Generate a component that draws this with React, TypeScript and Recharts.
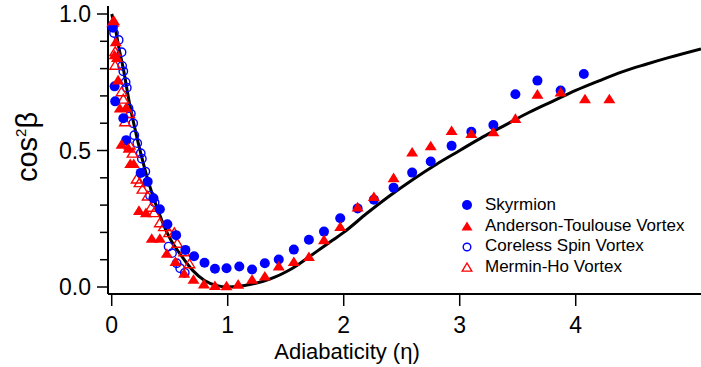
import { ComposedChart, Line, Scatter, XAxis, YAxis, Label } from 'recharts'

// theory curve
const curveEta = [0, 0.03, 0.06, 0.1, 0.15, 0.2, 0.25, 0.3, 0.35, 0.4, 0.45, 0.5, 0.6, 0.7, 0.8, 0.9, 1.0, 1.1, 1.2, 1.3, 1.4, 1.5, 1.6, 1.7, 1.8, 1.9, 2.0, 2.2, 2.4, 2.6, 2.8, 3.0, 3.2, 3.4, 3.6, 3.8, 4.0, 4.2, 4.4, 4.6, 4.8, 5.08]
const curveVal = [1.0, 0.95, 0.88, 0.8, 0.68, 0.58, 0.49, 0.41, 0.34, 0.28, 0.225, 0.18, 0.115, 0.06, 0.024, 0.006, 0.0, 0.003, 0.01, 0.02, 0.035, 0.055, 0.08, 0.11, 0.14, 0.17, 0.2, 0.27, 0.335, 0.395, 0.45, 0.5, 0.55, 0.595, 0.64, 0.68, 0.72, 0.755, 0.788, 0.815, 0.84, 0.872]

const skyEta = [0.01, 0.025, 0.03, 0.1, 0.125, 0.25, 0.31, 0.36, 0.415, 0.48, 0.555, 0.635, 0.71, 0.8, 0.89, 0.99, 1.1, 1.21, 1.32, 1.44, 1.57, 1.7, 1.83, 1.97, 2.12, 2.26, 2.43, 2.59, 2.75, 2.93, 3.1, 3.29, 3.48, 3.67, 3.87, 4.07]
const skyVal = [0.95, 0.735, 0.68, 0.618, 0.538, 0.418, 0.386, 0.325, 0.285, 0.23, 0.19, 0.136, 0.113, 0.089, 0.067, 0.069, 0.075, 0.064, 0.087, 0.101, 0.137, 0.173, 0.203, 0.252, 0.288, 0.32, 0.364, 0.419, 0.46, 0.517, 0.569, 0.593, 0.706, 0.756, 0.72, 0.78]

const atEta = [0.02, 0.035, 0.025, 0.045, 0.055, 0.07, 0.125, 0.085, 0.145, 0.16, 0.19, 0.235, 0.295, 0.345, 0.415, 0.475, 0.55, 0.625, 0.705, 0.795, 0.89, 0.99, 1.09, 1.21, 1.32, 1.44, 1.57, 1.7, 1.83, 1.97, 2.12, 2.26, 2.43, 2.59, 2.75, 2.93, 3.1, 3.29, 3.48, 3.67, 3.87, 4.08, 4.29]
const atVal = [0.975, 0.898, 0.85, 0.84, 0.758, 0.655, 0.658, 0.523, 0.508, 0.452, 0.452, 0.28, 0.272, 0.178, 0.178, 0.123, 0.093, 0.05, 0.028, 0.011, 0.005, 0.004, 0.01, 0.028, 0.04, 0.077, 0.093, 0.111, 0.173, 0.221, 0.293, 0.331, 0.4, 0.494, 0.517, 0.573, 0.562, 0.568, 0.617, 0.706, 0.714, 0.689, 0.689]

const csvEta = [0.01, 0.02, 0.06, 0.085, 0.09, 0.1, 0.12, 0.13, 0.145, 0.165, 0.185, 0.195, 0.22, 0.25, 0.26, 0.29, 0.33, 0.37, 0.49, 0.52, 0.56, 0.59, 0.63]
const csvVal = [0.96, 0.93, 0.905, 0.86, 0.81, 0.79, 0.75, 0.73, 0.655, 0.635, 0.6, 0.556, 0.527, 0.49, 0.47, 0.423, 0.335, 0.31, 0.148, 0.124, 0.087, 0.069, 0.052]

const mhEta = [0.01, 0.03, 0.03, 0.085, 0.1, 0.115, 0.15, 0.155, 0.18, 0.215, 0.24, 0.265, 0.31, 0.34, 0.365, 0.415, 0.45, 0.495, 0.54, 0.565, 0.625, 0.67]
const mhVal = [0.97, 0.862, 0.812, 0.715, 0.688, 0.605, 0.635, 0.52, 0.49, 0.395, 0.382, 0.358, 0.333, 0.292, 0.272, 0.235, 0.221, 0.199, 0.199, 0.16, 0.129, 0.085]

const seriesNames = ['Skyrmion', 'Anderson-Toulouse Vortex', 'Coreless Spin Vortex', 'Mermin-Ho Vortex']

const xTicks = [0, 1, 2, 3, 4]
const xTickLabels = ['0', '1', '2', '3', '4']
const yTicks = [0, 0.1, 0.2, 0.3, 0.4, 0.5, 0.6, 0.7, 0.8, 0.9, 1.0]
const yMajorTicks = [0, 0.5, 1.0]
const yMajorLabels = ['0.0', '0.5', '1.0']

const FONT = '"Liberation Sans", Arial, Helvetica, sans-serif'
const BLUE = '#0000ff'
const RED = '#ff0000'

const zip = (xs: number[], ys: number[]) => xs.map((x, i) => ({ x, y: ys[i] }))

const curveData = zip(curveEta, curveVal)
const skyData = zip(skyEta, skyVal)
const atData = zip(atEta, atVal)
const csvData = zip(csvEta, csvVal)
const mhData = zip(mhEta, mhVal)

const triPath = (cx: number, cy: number, hw: number, up: number, down: number) =>
  `M${cx},${cy - up} L${cx + hw},${cy + down} L${cx - hw},${cy + down} Z`

const FilledCircle = (p: any) => <circle cx={p.cx} cy={p.cy} r={5} fill={BLUE} />
const OpenCircle = (p: any) => (
  <circle cx={p.cx} cy={p.cy} r={4.2} fill="none" stroke={BLUE} strokeWidth={1.4} />
)
const FilledTri = (p: any) => <path d={triPath(p.cx, p.cy, 6, 5.2, 4.4)} fill={RED} />
const OpenTri = (p: any) => (
  <path d={triPath(p.cx, p.cy, 5.3, 4.8, 3.9)} fill="none" stroke={RED} strokeWidth={1.4} />
)

const legendMarkers = [
  <circle cx={7} cy={7} r={5} fill={BLUE} />,
  <path d={triPath(7, 7.5, 5.5, 5, 4)} fill={RED} />,
  <circle cx={7} cy={7} r={3.8} fill="none" stroke={BLUE} strokeWidth={1.4} />,
  <path d={triPath(7, 7.5, 4.8, 4.5, 3.6)} fill="none" stroke={RED} strokeWidth={1.4} />,
]

function XTick({ x, y, payload }: any) {
  const i = xTicks.indexOf(payload.value)
  return (
    <g>
      <line x1={x} x2={x} y1={y} y2={y + 12} stroke="#000" strokeWidth={1.5} />
      <text x={x} y={y + 39} textAnchor="middle" fontSize={23} fontFamily={FONT} fill="#000">
        {xTickLabels[i]}
      </text>
    </g>
  )
}

function YTick({ x, y, payload }: any) {
  const i = yMajorTicks.findIndex((v) => Math.abs(v - payload.value) < 1e-6)
  if (i < 0) {
    return <line x1={x - 8} x2={x} y1={y} y2={y} stroke="#000" strokeWidth={1.5} />
  }
  return (
    <g>
      <line x1={x - 11} x2={x} y1={y} y2={y} stroke="#000" strokeWidth={1.5} />
      <text x={x - 17} y={y + 8} textAnchor="end" fontSize={23} fontFamily={FONT} fill="#000">
        {yMajorLabels[i]}
      </text>
    </g>
  )
}

const XTitle = () => (
  <text x={347} y={359} textAnchor="middle" fontSize={22} fontFamily={FONT} fill="#000">
    Adiabaticity (η)
  </text>
)

const YTitle = () => (
  <text
    x={0}
    y={0}
    transform="translate(37 147) rotate(-90)"
    textAnchor="middle"
    fontSize={29}
    fontFamily={FONT}
    fill="#000"
  >
    cos
    <tspan fontSize={15} dy={-11}>2</tspan>
    <tspan dy={11}>β</tspan>
  </text>
)

export default function App() {
  return (
    <div style={{ position: 'absolute', left: 0, top: 0, width: 701, height: 367, background: '#fff' }}>
      <ComposedChart width={701} height={367} margin={{ top: 6, right: 0, bottom: 0, left: 0 }}>
        <XAxis
          xAxisId="top"
          orientation="top"
          type="number"
          dataKey="x"
          domain={[-0.032, 5.08]}
          height={0}
          tick={false}
          tickLine={false}
          axisLine={{ stroke: '#000', strokeWidth: 2 }}
        />
        <XAxis
          type="number"
          dataKey="x"
          domain={[-0.032, 5.08]}
          ticks={xTicks}
          interval={0}
          height={73}
          tickSize={0}
          tickMargin={0}
          tickLine={false}
          axisLine={{ stroke: '#000', strokeWidth: 2 }}
          tick={<XTick />}
        >
          <Label content={<XTitle />} />
        </XAxis>
        <YAxis
          type="number"
          domain={[-0.0256, 1.0293]}
          ticks={yTicks}
          interval={0}
          width={108}
          tickSize={0}
          tickMargin={0}
          tickLine={false}
          axisLine={{ stroke: '#000', strokeWidth: 2 }}
          tick={<YTick />}
        >
          <Label content={<YTitle />} />
        </YAxis>
        <Line
          data={curveData}
          dataKey="y"
          type="monotone"
          stroke="#000"
          strokeWidth={3}
          dot={false}
          isAnimationActive={false}
        />
        <Scatter data={csvData} dataKey="y" shape={OpenCircle} isAnimationActive={false} />
        <Scatter data={mhData} dataKey="y" shape={OpenTri} isAnimationActive={false} />
        <Scatter data={skyData} dataKey="y" shape={FilledCircle} isAnimationActive={false} />
        <Scatter data={atData} dataKey="y" shape={FilledTri} isAnimationActive={false} />
      </ComposedChart>
      <div
        style={{
          position: 'absolute',
          left: 460,
          top: 195,
          fontFamily: FONT,
          fontSize: 17,
          lineHeight: '20.7px',
          color: '#000',
        }}
      >
        {seriesNames.map((name, i) => (
          <div key={name} style={{ display: 'flex', alignItems: 'center', height: 20.7, whiteSpace: 'nowrap' }}>
            <svg width={14} height={14} style={{ display: 'block' }}>
              {legendMarkers[i]}
            </svg>
            <span style={{ marginLeft: 11 }}>{name}</span>
          </div>
        ))}
      </div>
    </div>
  )
}
